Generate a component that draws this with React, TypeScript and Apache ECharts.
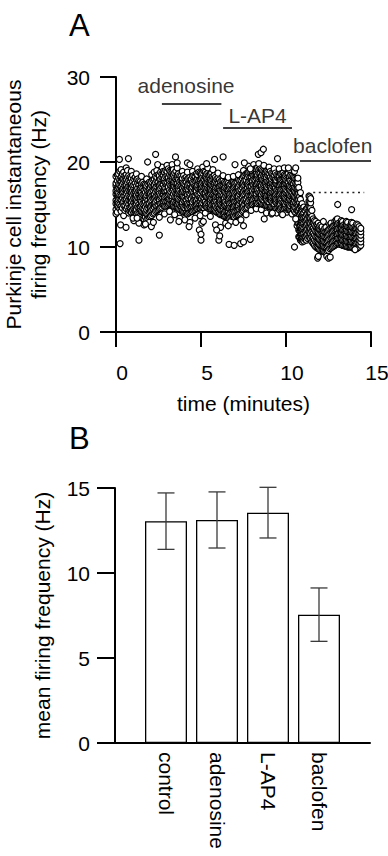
import React, { useEffect, useRef } from "react";
import * as echarts from "echarts";

// ---------- Panel A: instantaneous firing frequency (Hz) vs time (min) ----------
// each column: [time, y1, y2, ...]
const controlColumns: number[][] = [
  [0.0, 14.4, 15.1, 15.5, 16.2, 16.6, 17.2, 17.5, 18.3, 13.9],
  [0.075, 14.1, 14.8, 15.3, 15.9, 16.4, 16.9, 17.8, 18.5],
  [0.15, 14.7, 15.2, 15.9, 16.3, 17.0, 17.4, 18.1, 18.6, 15.6],
  [0.225, 14.5, 15.0, 15.7, 16.1, 16.8, 17.3, 17.9, 18.9],
  [0.3, 14.2, 14.8, 15.6, 16.0, 16.6, 17.1, 17.7, 18.2, 19.1],
  [0.375, 14.6, 15.2, 15.8, 16.4, 16.8, 17.4, 18.0, 18.6],
  [0.45, 14.9, 15.3, 16.0, 16.5, 16.9, 17.6, 18.0, 18.8, 13.7],
  [0.525, 14.3, 14.9, 15.6, 16.0, 16.7, 17.2, 17.8, 18.4],
  [0.6, 14.5, 15.2, 15.7, 16.3, 16.8, 17.3, 17.9, 18.5, 19.3],
  [0.675, 14.7, 15.3, 15.9, 16.5, 17.0, 17.6, 18.2, 19.0],
  [0.75, 14.3, 15.0, 15.5, 16.1, 16.7, 17.1, 17.8, 18.4, 14.0],
  [0.825, 14.2, 14.7, 15.4, 15.9, 16.5, 17.0, 17.6, 18.2],
  [0.9, 14.1, 14.8, 15.3, 15.8, 16.4, 17.0, 17.4, 18.1, 18.9],
  [0.975, 14.3, 14.9, 15.5, 16.1, 16.6, 17.2, 17.7, 18.4],
  [1.05, 14.0, 14.5, 15.2, 15.7, 16.3, 16.9, 17.3, 18.0, 13.1],
  [1.125, 13.9, 14.4, 15.0, 15.6, 16.2, 16.6, 17.5, 18.2],
  [1.2, 13.8, 14.4, 15.1, 15.5, 16.1, 16.7, 17.2, 17.9, 18.6],
  [1.275, 14.0, 14.7, 15.3, 15.8, 16.4, 16.9, 17.5, 18.0],
  [1.35, 13.9, 14.6, 15.0, 15.7, 16.2, 16.6, 17.3, 17.8, 12.8],
  [1.425, 13.7, 14.3, 14.8, 15.5, 15.9, 16.5, 17.0, 17.7],
  [1.5, 13.6, 14.2, 14.9, 15.3, 16.0, 16.4, 17.1, 17.5, 18.3],
  [1.575, 13.4, 14.1, 14.6, 15.1, 15.8, 16.2, 16.9, 17.6],
  [1.65, 13.3, 14.0, 14.5, 15.2, 15.6, 16.3, 16.7, 17.4, 12.6],
  [1.725, 13.5, 14.0, 14.7, 15.3, 15.8, 16.4, 17.0, 17.3],
  [1.8, 13.2, 13.9, 14.4, 15.0, 15.7, 16.1, 16.8, 17.2, 18.0],
  [1.875, 13.3, 13.8, 14.6, 15.1, 15.5, 16.3, 16.6, 17.4],
  [1.95, 13.5, 14.1, 14.8, 15.2, 15.9, 16.4, 16.9, 17.6, 12.9],
  [2.025, 13.6, 14.2, 14.7, 15.4, 15.8, 16.3, 17.0, 17.5],
  [2.1, 13.7, 14.3, 14.8, 15.5, 16.0, 16.5, 17.2, 17.7, 18.5],
  [2.175, 13.9, 14.5, 15.0, 15.7, 16.1, 16.7, 17.1, 17.9],
  [2.25, 14.0, 14.7, 15.1, 15.8, 16.2, 16.9, 17.3, 18.0, 18.8],
  [2.325, 14.2, 14.9, 15.3, 15.9, 16.5, 17.0, 17.6, 18.3],
  [2.4, 14.3, 14.8, 15.5, 16.0, 16.7, 17.1, 17.8, 18.2, 19.0],
  [2.475, 14.4, 15.0, 15.7, 16.2, 16.6, 17.3, 17.6, 18.5],
  [2.55, 14.5, 15.2, 15.6, 16.3, 16.8, 17.3, 18.0, 18.4, 13.5],
  [2.625, 14.6, 15.1, 15.8, 16.1, 16.9, 17.4, 18.0, 18.8],
];

const adenosineColumns: number[][] = [
  [2.7, 14.7, 15.2, 15.9, 16.4, 17.1, 17.5, 18.2, 18.6, 19.4],
  [2.775, 14.9, 15.4, 16.1, 16.6, 17.3, 17.8, 18.4, 18.9],
  [2.85, 14.8, 15.5, 15.9, 16.6, 17.0, 17.7, 18.1, 18.8, 13.9],
  [2.925, 14.8, 15.3, 16.0, 16.5, 16.9, 17.6, 18.3, 19.0],
  [3.0, 14.9, 15.4, 16.1, 16.6, 17.3, 17.7, 18.4, 18.9, 19.6],
  [3.075, 15.0, 15.6, 16.2, 16.9, 17.1, 17.9, 18.2, 19.2],
  [3.15, 15.1, 15.6, 16.3, 16.7, 17.4, 17.8, 18.5, 19.0, 14.2],
  [3.225, 15.0, 15.5, 16.1, 16.5, 17.2, 17.9, 18.3, 18.9],
  [3.3, 14.9, 15.5, 16.0, 16.7, 17.1, 17.8, 18.3, 19.0, 19.7],
  [3.375, 14.8, 15.3, 16.2, 16.8, 17.2, 17.6, 18.4, 19.1],
  [3.45, 14.7, 15.4, 15.9, 16.5, 17.1, 17.6, 18.2, 18.7, 13.8],
  [3.525, 14.7, 15.2, 15.8, 16.3, 16.9, 17.5, 18.0, 18.9],
  [3.6, 14.6, 15.1, 15.8, 16.3, 17.0, 17.4, 18.1, 18.5, 19.3],
  [3.675, 14.5, 15.2, 15.6, 16.4, 16.8, 17.2, 17.9, 18.6],
  [3.75, 14.4, 15.0, 15.5, 16.2, 16.6, 17.3, 17.7, 18.4, 13.4],
  [3.825, 14.3, 14.8, 15.4, 16.1, 16.4, 17.1, 17.8, 18.3],
  [3.9, 14.2, 14.9, 15.3, 16.0, 16.5, 17.0, 17.7, 18.1, 18.9],
  [3.975, 14.1, 14.7, 15.5, 15.9, 16.6, 17.2, 17.5, 18.4],
  [4.05, 14.1, 14.6, 15.3, 15.8, 16.4, 17.0, 17.4, 18.1, 13.2],
  [4.125, 14.0, 14.8, 15.2, 15.6, 16.3, 16.8, 17.6, 18.2],
  [4.2, 13.9, 14.6, 15.1, 15.8, 16.2, 16.9, 17.3, 18.0, 18.8],
  [4.275, 14.0, 14.5, 15.0, 15.7, 16.4, 16.7, 17.4, 18.1],
  [4.35, 14.1, 14.7, 15.2, 15.9, 16.3, 17.0, 17.5, 18.2, 12.9],
  [4.425, 14.2, 14.8, 15.4, 15.7, 16.5, 16.9, 17.7, 18.0],
  [4.5, 14.2, 14.9, 15.3, 16.0, 16.6, 17.1, 17.6, 18.3, 18.9],
  [4.575, 14.3, 14.7, 15.5, 16.1, 16.4, 17.3, 17.5, 18.4],
  [4.65, 14.4, 14.9, 15.6, 16.1, 16.7, 17.2, 17.8, 18.3, 13.4],
  [4.725, 14.5, 15.0, 15.5, 16.3, 16.6, 17.1, 17.9, 18.6],
  [4.8, 14.5, 15.1, 15.7, 16.2, 16.9, 17.3, 18.0, 18.5, 19.2],
  [4.875, 14.6, 15.2, 15.9, 16.1, 16.8, 17.5, 17.8, 18.8],
  [4.95, 14.6, 15.3, 15.8, 16.4, 16.9, 17.6, 18.0, 18.7, 13.7],
  [5.025, 14.7, 15.1, 15.7, 16.6, 17.0, 17.4, 18.1, 18.6],
  [5.1, 14.7, 15.2, 15.9, 16.5, 17.1, 17.6, 18.2, 18.7, 19.4],
  [5.175, 14.6, 15.4, 15.8, 16.3, 17.0, 17.7, 18.0, 18.9],
  [5.25, 14.8, 15.3, 16.0, 16.4, 17.1, 17.5, 18.2, 18.8, 14.0],
  [5.325, 14.7, 15.1, 15.9, 16.6, 17.2, 17.4, 18.1, 18.6],
  [5.4, 14.6, 15.2, 15.8, 16.5, 16.9, 17.6, 18.0, 18.7, 19.3],
  [5.475, 14.5, 15.3, 15.7, 16.2, 16.8, 17.5, 18.1, 18.5],
  [5.55, 14.5, 15.1, 15.6, 16.3, 16.8, 17.4, 17.9, 18.6, 13.6],
  [5.625, 14.4, 14.9, 15.7, 16.4, 16.7, 17.3, 17.8, 18.7],
  [5.7, 14.4, 15.0, 15.6, 16.1, 16.8, 17.2, 17.9, 18.3, 19.1],
  [5.775, 14.3, 14.9, 15.4, 16.0, 16.6, 17.3, 17.6, 18.4],
  [5.85, 14.2, 14.8, 15.5, 15.9, 16.6, 17.0, 17.7, 18.2, 12.6],
  [5.925, 14.1, 14.6, 15.3, 16.0, 16.4, 17.1, 17.5, 18.0],
  [6.0, 14.0, 14.7, 15.1, 15.8, 16.3, 16.9, 17.4, 18.1, 18.7],
  [6.075, 13.9, 14.5, 15.2, 15.7, 16.1, 16.7, 17.2, 17.9],
  [6.15, 13.8, 14.4, 15.1, 15.5, 16.2, 16.6, 17.3, 17.7, 12.3],
  [6.225, 13.8, 14.3, 14.9, 15.6, 16.1, 16.5, 17.2, 17.8],
];

const lap4Columns: number[][] = [
  [6.3, 13.7, 14.3, 14.8, 15.5, 16.0, 16.7, 17.1, 17.8, 18.4],
  [6.375, 13.6, 14.1, 14.9, 15.4, 15.8, 16.5, 17.0, 17.6],
  [6.45, 13.6, 14.2, 14.9, 15.3, 16.0, 16.4, 17.1, 17.5, 12.8],
  [6.525, 13.5, 14.2, 14.7, 15.1, 15.8, 16.3, 16.9, 17.6],
  [6.6, 13.4, 14.1, 14.6, 15.3, 15.7, 16.4, 16.8, 17.5, 18.2],
  [6.675, 13.4, 13.9, 14.6, 15.1, 15.8, 16.2, 16.9, 17.3],
  [6.75, 13.5, 14.0, 14.7, 15.2, 15.9, 16.3, 17.0, 17.4, 13.0],
  [6.825, 13.6, 14.2, 14.6, 15.3, 15.7, 16.4, 16.8, 17.6],
  [6.9, 13.6, 14.3, 14.7, 15.4, 15.8, 16.5, 17.0, 17.6, 18.3],
  [6.975, 13.5, 14.1, 14.8, 15.3, 15.9, 16.3, 17.1, 17.5],
  [7.05, 13.7, 14.2, 14.9, 15.4, 16.1, 16.5, 17.2, 17.6, 12.9],
  [7.125, 13.8, 14.4, 14.8, 15.5, 15.9, 16.6, 17.0, 17.7],
  [7.2, 13.8, 14.5, 14.9, 15.6, 16.0, 16.7, 17.1, 17.9, 18.5],
  [7.275, 13.9, 14.4, 15.1, 15.5, 16.2, 16.6, 17.3, 17.8],
  [7.35, 14.0, 14.6, 15.3, 15.7, 16.4, 16.8, 17.5, 17.9, 13.2],
  [7.425, 14.2, 14.7, 15.3, 15.9, 16.3, 17.0, 17.4, 18.1],
  [7.5, 14.3, 14.8, 15.5, 16.1, 16.5, 17.2, 17.6, 18.3, 19.0],
  [7.575, 14.5, 15.0, 15.6, 16.2, 16.7, 17.3, 17.8, 18.4],
  [7.65, 14.6, 15.3, 15.7, 16.4, 16.8, 17.5, 17.9, 18.6, 13.8],
  [7.725, 14.7, 15.2, 15.9, 16.5, 17.0, 17.4, 18.2, 18.7],
  [7.8, 14.9, 15.4, 16.1, 16.6, 17.3, 17.7, 18.4, 18.8, 19.5],
  [7.875, 14.9, 15.6, 16.0, 16.7, 17.1, 17.8, 18.2, 18.9],
  [7.95, 15.0, 15.7, 16.1, 16.8, 17.2, 17.9, 18.3, 19.0, 14.3],
  [8.025, 15.0, 15.5, 16.2, 16.6, 17.4, 17.8, 18.5, 18.9],
  [8.1, 15.1, 15.6, 16.3, 16.9, 17.3, 18.0, 18.4, 19.1, 19.7],
  [8.175, 15.2, 15.8, 16.2, 17.0, 17.5, 17.9, 18.5, 19.2],
  [8.25, 15.2, 15.9, 16.3, 17.0, 17.4, 18.1, 18.6, 19.2, 14.5],
  [8.325, 15.1, 15.7, 16.5, 16.8, 17.5, 18.2, 18.5, 19.3],
  [8.4, 15.2, 15.7, 16.4, 16.9, 17.6, 18.0, 18.7, 19.1, 19.8],
  [8.475, 15.3, 15.8, 16.3, 17.1, 17.4, 18.1, 18.6, 19.2],
  [8.55, 15.1, 15.8, 16.2, 16.9, 17.3, 18.0, 18.4, 19.1, 14.4],
  [8.625, 15.0, 15.6, 16.4, 16.8, 17.5, 17.9, 18.6, 19.0],
  [8.7, 15.0, 15.5, 16.2, 16.7, 17.3, 17.8, 18.4, 18.9, 19.6],
  [8.775, 14.9, 15.7, 16.1, 16.6, 17.4, 17.7, 18.5, 18.8],
  [8.85, 14.9, 15.6, 16.0, 16.7, 17.1, 17.8, 18.2, 18.9, 14.0],
  [8.925, 14.8, 15.4, 16.1, 16.6, 17.0, 17.7, 18.4, 18.8],
  [9.0, 14.8, 15.3, 16.0, 16.5, 17.2, 17.6, 18.3, 18.7, 19.4],
  [9.075, 14.7, 15.5, 15.9, 16.4, 17.1, 17.5, 18.2, 18.9],
  [9.15, 14.7, 15.4, 15.8, 16.5, 16.9, 17.6, 18.0, 18.7, 13.9],
  [9.225, 14.6, 15.2, 15.9, 16.4, 17.1, 17.5, 18.2, 18.6],
  [9.3, 14.6, 15.1, 15.8, 16.3, 17.0, 17.4, 18.1, 18.5, 19.2],
  [9.375, 14.5, 15.3, 15.7, 16.2, 16.9, 17.5, 17.9, 18.7],
  [9.45, 14.5, 15.2, 15.6, 16.3, 16.7, 17.4, 17.8, 18.5, 14.0],
  [9.525, 14.6, 15.0, 15.7, 16.4, 16.8, 17.3, 18.1, 18.4],
  [9.6, 14.4, 15.0, 15.7, 16.2, 16.9, 17.3, 18.0, 18.4, 19.2],
  [9.675, 14.5, 15.1, 15.6, 16.3, 16.7, 17.4, 17.9, 18.6],
  [9.75, 14.6, 15.3, 15.7, 16.4, 16.8, 17.5, 17.9, 18.6, 13.9],
  [9.825, 14.5, 15.2, 15.9, 16.2, 16.9, 17.3, 18.0, 18.7],
  [9.9, 14.6, 15.1, 15.8, 16.3, 17.0, 17.4, 18.1, 18.5, 19.3],
  [9.975, 14.7, 15.0, 15.7, 16.4, 16.8, 17.5, 17.9, 18.4],
  [10.05, 14.5, 15.2, 15.6, 16.3, 16.7, 17.4, 17.8, 18.5, 14.1],
  [10.125, 14.4, 15.1, 15.5, 16.2, 16.9, 17.3, 17.7, 18.6],
  [10.2, 14.4, 14.9, 15.6, 16.1, 16.8, 17.2, 17.9, 18.3, 19.1],
  [10.275, 14.3, 14.8, 15.5, 16.0, 16.6, 17.1, 17.8, 18.4],
  [10.35, 14.3, 15.0, 15.4, 16.1, 16.5, 17.2, 17.6, 18.3, 13.9],
  [10.425, 14.4, 14.9, 15.3, 16.0, 16.7, 17.3, 17.5, 18.2],
  [10.5, 14.2, 14.7, 15.4, 15.9, 16.6, 17.0, 17.7, 18.1, 18.9],
  [10.575, 14.0, 14.6, 15.2, 15.8, 16.4, 16.9, 17.5, 18.0],
];

const baclofenColumns: number[][] = [
  [10.65, 13.6, 14.3, 15.0, 15.6, 16.2, 16.8, 17.4, 18.0, 12.5],
  [10.7, 12.8, 13.5, 14.2, 14.8, 15.5, 16.1, 16.9, 17.6],
  [10.75, 12.0, 12.8, 13.5, 14.2, 14.9, 15.6, 16.3, 17.0, 11.2],
  [10.8, 11.2, 11.9, 12.5, 13.2, 13.8, 14.5, 15.2, 15.9],
  [10.85, 10.8, 11.4, 12.0, 12.6, 13.3, 14.0, 14.8, 15.6, 16.4],
  [10.9, 10.9, 11.5, 12.1, 12.8, 13.5, 14.2, 14.9],
  [10.95, 10.6, 11.2, 11.8, 12.4, 13.0, 13.7, 14.4, 15.1, 11.0],
  [11.0, 10.8, 11.5, 12.0, 12.7, 13.3, 13.9, 14.6],
  [11.05, 11.0, 11.6, 12.2, 12.8, 13.4, 14.0, 14.7, 10.7],
  [11.125, 10.9, 11.3, 11.9, 12.5, 13.1, 13.6, 14.3],
  [11.2, 10.8, 11.4, 12.0, 12.6, 13.2, 13.8, 14.5],
  [11.275, 11.0, 11.5, 12.1, 12.7, 13.3, 13.9, 14.6],
  [11.35, 11.2, 11.8, 12.4, 13.0, 13.6, 14.2, 14.8, 15.4, 16.0],
  [11.4, 11.1, 11.7, 12.3, 12.9, 13.5, 14.1, 14.7, 15.3, 15.9],
  [11.45, 11.0, 11.6, 12.2, 12.8, 13.4, 14.0, 14.6, 15.2, 15.7],
  [11.525, 10.6, 11.2, 11.8, 12.4, 13.0, 13.6, 14.3],
  [11.6, 10.4, 11.0, 11.6, 12.2, 12.8, 13.3],
  [11.675, 10.2, 10.8, 11.4, 12.0, 12.6, 13.1],
  [11.75, 10.0, 10.6, 11.2, 11.8, 12.4, 13.0],
  [11.825, 9.9, 10.5, 11.1, 11.7, 12.3, 12.7],
  [11.9, 9.8, 10.4, 11.0, 11.6, 12.2, 12.8],
  [11.975, 9.7, 10.3, 10.9, 11.5, 12.1, 12.5],
  [12.05, 9.6, 10.2, 10.8, 11.4, 12.0, 12.6],
  [12.125, 9.5, 10.1, 10.7, 11.3, 11.9, 12.4],
  [12.2, 9.5, 10.1, 10.7, 11.3, 11.9],
  [12.275, 9.4, 10.0, 10.6, 11.2, 11.8, 12.2],
  [12.35, 9.4, 10.0, 10.6, 11.2, 11.8, 12.3],
  [12.425, 9.5, 10.1, 10.7, 11.3, 11.9],
  [12.5, 9.6, 10.2, 10.8, 11.4, 12.0],
  [12.575, 9.8, 10.3, 10.9, 11.5, 12.1, 12.6],
  [12.65, 9.9, 10.5, 11.1, 11.7, 12.3, 12.8],
  [12.725, 10.0, 10.6, 11.2, 11.8, 12.4],
  [12.8, 10.1, 10.7, 11.3, 11.9, 12.5],
  [12.875, 10.2, 10.8, 11.4, 12.0, 12.6, 13.0],
  [12.95, 10.3, 10.9, 11.5, 12.1, 12.7, 13.2],
  [13.025, 10.4, 11.0, 11.5, 12.1, 12.7, 13.3],
  [13.1, 10.4, 11.0, 11.6, 12.2, 12.8],
  [13.175, 10.3, 10.9, 11.5, 12.1, 12.7],
  [13.25, 10.3, 10.9, 11.5, 12.1, 12.7, 13.1],
  [13.325, 10.2, 10.8, 11.4, 12.0, 12.6, 13.0],
  [13.4, 10.2, 10.8, 11.4, 12.0, 12.6],
  [13.475, 10.1, 10.7, 11.3, 11.9, 12.5],
  [13.55, 10.1, 10.7, 11.3, 11.9, 12.5, 13.0],
  [13.625, 10.0, 10.6, 11.2, 11.8, 12.4, 12.9],
  [13.7, 10.0, 10.6, 11.2, 11.8, 12.4],
  [13.775, 10.0, 10.6, 11.2, 11.8, 12.4],
  [13.85, 10.0, 10.6, 11.2, 11.8, 12.4, 12.9],
  [13.925, 9.9, 10.5, 11.1, 11.7, 12.3, 12.8],
  [14.0, 9.9, 10.5, 11.1, 11.7, 12.3],
  [14.075, 9.8, 10.4, 11.0, 11.6, 12.2],
  [14.15, 9.8, 10.4, 11.0, 11.6, 12.2, 12.7],
  [14.225, 9.9, 10.5, 11.1, 11.7, 12.3, 12.6],
  [14.3, 10.0, 10.4, 10.8, 11.2, 11.6, 12.0, 12.4],
  [14.4, 10.2, 10.6, 11.0, 11.4, 11.8, 12.2],
];

// isolated points [time, Hz]
const outlierPoints: number[][] = [
  [0.2, 20.3], [0.73, 20.4], [0.24, 10.4], [0.27, 12.6], [0.59, 12.3], [1.0, 13.4],
  [1.24, 13.4], [1.35, 10.8], [1.73, 12.7], [1.86, 20.0], [2.08, 12.4], [2.2, 12.9],
  [2.33, 20.9], [2.45, 19.7], [2.55, 11.4], [3.2, 13.2], [3.5, 20.6], [3.6, 19.9],
  [3.7, 13.0], [4.2, 19.9], [4.3, 12.4], [4.35, 19.7], [4.9, 12.0], [5.0, 10.8],
  [5.0, 11.5], [5.05, 12.8], [5.14, 13.0], [5.33, 19.8], [5.8, 20.3], [5.92, 12.0],
  [6.05, 10.8], [6.1, 11.3], [6.3, 20.6], [6.6, 12.5], [6.65, 10.3], [6.95, 10.2],
  [7.0, 19.7], [7.33, 10.4], [7.5, 10.6], [7.5, 12.5], [7.55, 19.9], [7.9, 10.9],
  [7.9, 19.2], [8.37, 20.9], [8.53, 21.1], [8.67, 21.5], [8.72, 13.3], [9.2, 14.0],
  [9.5, 20.4], [9.8, 13.8], [10.14, 19.3], [10.5, 10.0], [10.57, 19.3], [10.57, 13.3],
  [10.7, 18.1], [11.86, 8.7], [11.9, 8.9], [12.2, 13.0], [12.4, 8.9], [12.5, 8.7],
  [12.6, 8.8], [13.04, 15.0], [13.86, 14.4], [14.06, 9.7],
];

// drug application bars: [start, end, level]
const drugNames = ["adenosine", "L-AP4", "baclofen"];
const drugBars: number[][] = [
  [2.7, 6.2, 26.8],
  [6.3, 10.35, 24.0],
  [10.82, 15.0, 20.2],
];
const drugLabelPos: number[][] = [
  [4.12, 29.0],
  [8.33, 25.5],
  [12.75, 22.0],
];
// dotted control-level reference: [start, end, level]
const controlLevel = [11.6, 14.6, 16.5];

// ---------- Panel B: mean firing frequency ----------
const barCategories = ["control", "adenosine", "L-AP4", "baclofen"];
const barPositions = [1, 2, 3, 4];
const barMeans = [13.05, 13.12, 13.55, 7.55];
const barErrors = [1.66, 1.65, 1.49, 1.57];

const FONT = '"Liberation Sans", Arial, Helvetica, sans-serif';

export default function App() {
  const ref = useRef<HTMLDivElement>(null);

  useEffect(() => {
    if (!ref.current) return;
    const chart = echarts.init(ref.current, undefined, { renderer: "svg" });

    const allColumns = [
      ...controlColumns,
      ...adenosineColumns,
      ...lap4Columns,
      ...baclofenColumns,
    ].sort((a, b) => a[0] - b[0]);
    const scatterData = [
      ...allColumns.flatMap((c) => c.slice(1).map((y) => [c[0], y])),
      ...outlierPoints,
    ];

    const axisLine = { lineStyle: { color: "#000", width: 2 } };
    const black = "#000";

    const option: any = {
      animation: false,
      textStyle: { fontFamily: FONT },
      grid: [
        { left: 116, top: 77, width: 255, height: 255, outerBoundsMode: "none", containLabel: false },
        { left: 115, top: 488, width: 255, height: 255, outerBoundsMode: "none", containLabel: false },
      ],
      xAxis: [
        {
          gridIndex: 0,
          type: "value",
          min: 0,
          max: 15,
          interval: 5,
          name: "time (minutes)",
          nameLocation: "middle",
          nameGap: 61,
          nameTextStyle: { fontSize: 21, color: black, fontFamily: FONT },
          axisLine,
          axisTick: { length: 15, lineStyle: { color: black, width: 2 } },
          axisLabel: { fontSize: 21, color: black, margin: 30, padding: [0, 0, 0, 12], fontFamily: FONT },
          splitLine: { show: false },
        },
        {
          gridIndex: 1,
          type: "value",
          min: 0,
          max: 5,
          interval: 1,
          axisLine,
          axisTick: { show: false },
          axisLabel: {
            rotate: -90,
            fontSize: 21,
            color: black,
            margin: 9,
            fontFamily: FONT,
            formatter: (v: number) => barCategories[v - 1] ?? "",
          },
          splitLine: { show: false },
        },
      ],
      yAxis: [
        {
          gridIndex: 0,
          type: "value",
          min: 0,
          max: 30,
          interval: 10,
          name: "Purkinje cell instantaneous\nfiring frequency (Hz)",
          nameLocation: "middle",
          nameGap: 65,
          nameTextStyle: { fontSize: 21, lineHeight: 25, color: black, fontFamily: FONT },
          axisLine,
          axisTick: { length: 16, lineStyle: { color: black, width: 2 } },
          axisLabel: { fontSize: 21, color: black, margin: 26, fontFamily: FONT },
          splitLine: { show: false },
        },
        {
          gridIndex: 1,
          type: "value",
          min: 0,
          max: 15,
          interval: 5,
          name: "mean firing frequency (Hz)",
          nameLocation: "middle",
          nameGap: 62,
          nameTextStyle: { fontSize: 21, color: black, fontFamily: FONT },
          axisLine,
          axisTick: { length: 18, lineStyle: { color: black, width: 2 } },
          axisLabel: { fontSize: 21, color: black, margin: 25, fontFamily: FONT },
          splitLine: { show: false },
        },
      ],
      graphic: [
        {
          type: "text",
          left: 69,
          top: 10,
          style: { text: "A", font: `31px ${FONT}`, fill: black },
        },
        {
          type: "text",
          left: 69,
          top: 423,
          style: { text: "B", font: `31px ${FONT}`, fill: black },
        },
      ],
      series: [
        {
          type: "scatter",
          xAxisIndex: 0,
          yAxisIndex: 0,
          data: scatterData,
          symbol: "circle",
          symbolSize: 6,
          progressive: 0,
          large: false,
          silent: true,
          itemStyle: { color: "#fff", borderColor: "#000", borderWidth: 1.2, opacity: 1 },
          markLine: {
            silent: true,
            symbol: ["none", "none"],
            label: { show: false },
            lineStyle: { color: black, width: 1.5, type: "solid" },
            data: [
              ...drugBars.map((b) => [{ coord: [b[0], b[2]] }, { coord: [b[1], b[2]] }]),
              [
                {
                  coord: [controlLevel[0], controlLevel[2]],
                  lineStyle: { color: "#222", width: 1.3, type: [2, 3.6] },
                },
                { coord: [controlLevel[1], controlLevel[2]] },
              ],
            ],
          },
        },
        {
          type: "scatter",
          xAxisIndex: 0,
          yAxisIndex: 0,
          data: drugLabelPos,
          symbolSize: 1,
          silent: true,
          itemStyle: { color: "transparent" },
          label: {
            show: true,
            position: "inside",
            color: black,
            fontSize: 21,
            fontFamily: FONT,
            formatter: (p: any) => drugNames[p.dataIndex],
          },
        },
        {
          type: "bar",
          xAxisIndex: 1,
          yAxisIndex: 1,
          data: barPositions.map((x, i) => [x, barMeans[i]]),
          barWidth: 42,
          silent: true,
          itemStyle: { color: "#fff", borderColor: "#000", borderWidth: 1.3 },
        },
        {
          type: "custom",
          xAxisIndex: 1,
          yAxisIndex: 1,
          silent: true,
          data: barPositions.map((x, i) => [x, barMeans[i] - barErrors[i], barMeans[i] + barErrors[i]]),
          encode: { x: 0, y: [1, 2] },
          z: 5,
          renderItem: (params: any, api: any) => {
            const x = api.value(0);
            const lo = api.coord([x, api.value(1)]);
            const hi = api.coord([x, api.value(2)]);
            const cap = 8.5;
            const style = { stroke: "#3a3a3a", lineWidth: 1.3 };
            return {
              type: "group",
              children: [
                { type: "line", shape: { x1: lo[0], y1: lo[1], x2: hi[0], y2: hi[1] }, style },
                { type: "line", shape: { x1: lo[0] - cap, y1: lo[1], x2: lo[0] + cap, y2: lo[1] }, style },
                { type: "line", shape: { x1: hi[0] - cap, y1: hi[1], x2: hi[0] + cap, y2: hi[1] }, style },
              ],
            };
          },
        },
      ],
    };

    chart.setOption(option);
    return () => chart.dispose();
  }, []);

  return (
    <div
      ref={ref}
      style={{ position: "fixed", left: 0, top: 0, width: 388, height: 856, background: "#fff" }}
    />
  );
}
